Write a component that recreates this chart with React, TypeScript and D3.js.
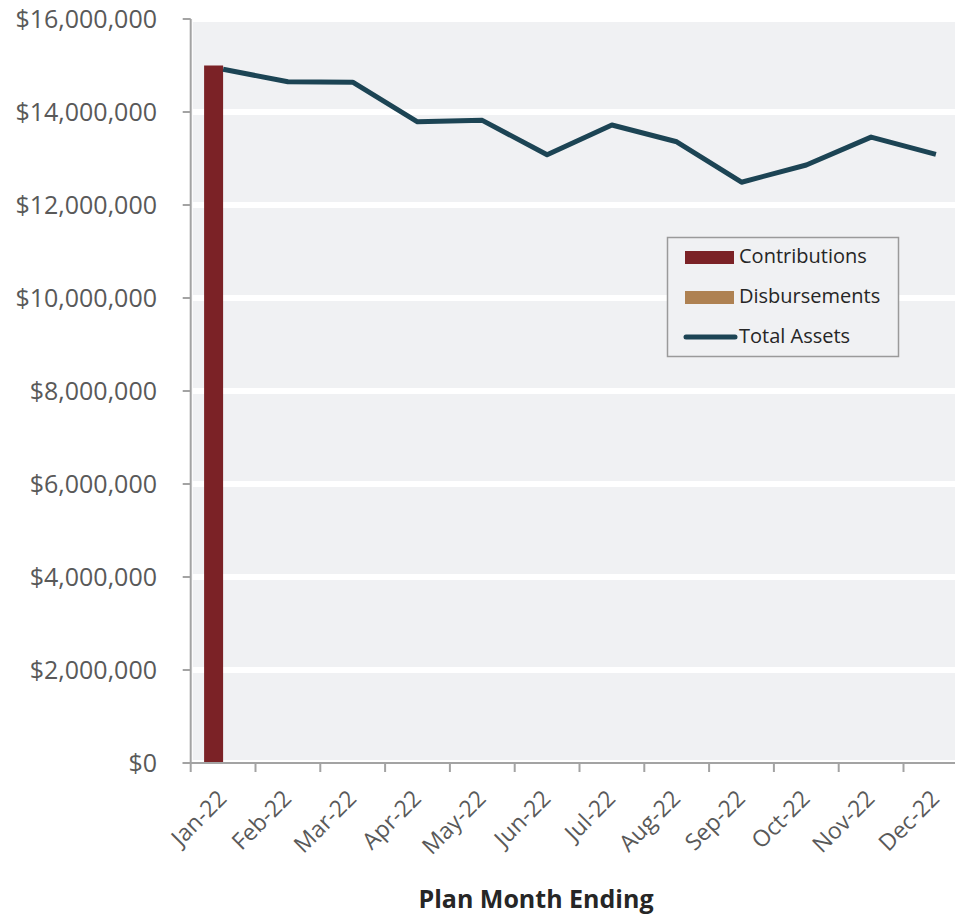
import React from "react";
import * as d3 from "d3";

const months = ["Jan-22","Feb-22","Mar-22","Apr-22","May-22","Jun-22","Jul-22","Aug-22","Sep-22","Oct-22","Nov-22","Dec-22"];
const contributions = [15000000,0,0,0,0,0,0,0,0,0,0,0];
const disbursements = [0,0,0,0,0,0,0,0,0,0,0,0];
const totalAssets = [14920000,14650000,14640000,13790000,13820000,13080000,13720000,13360000,12490000,12860000,13460000,13090000];
const yTicks = [0,2000000,4000000,6000000,8000000,10000000,12000000,14000000,16000000];
const legendItems = ["Contributions","Disbursements","Total Assets"];

const W = 955, H = 916;
const left = 190.7, right = 968.3, top = 19, bottom = 763;
const FONT = "'Open Sans', sans-serif";
const C_CONTRIB = "#7b2226";
const C_DISB = "#ae8152";
const C_LINE = "#1c4454";
const BG = "#f0f1f3";
const AXIS = "#a3a3a3";
const TXT = "#595959";

export default function App() {
  const x = d3.scaleBand<string>().domain(months).range([left, right]);
  const y = d3.scaleLinear().domain([0, 16000000]).range([bottom, top]);
  const bw = 19;
  const fmt = (v: number) => "$" + d3.format(",")(v);
  const line = d3.line<number>()
    .x((_, i) => (x(months[i]) as number) + x.bandwidth() / 2)
    .y((d) => y(d));

  return (
    <svg width={W} height={H} style={{ position: "absolute", left: 0, top: 0, display: "block", background: "#fff" }} fontFamily={FONT}>
      <rect x={left + 2} y={top} width={W - left} height={bottom - top} fill={BG} />
      {yTicks.map((t) => (
        <line key={"g" + t} x1={left + 2} x2={W} y1={y(t)} y2={y(t)} stroke="#fff" strokeWidth={6} />
      ))}
      {/* bars */}
      {months.map((m, i) => {
        const cx = (x(m) as number) + x.bandwidth() / 2;
        return (
          <g key={"b" + m}>
            <rect x={cx - bw} y={y(contributions[i])} width={bw} height={bottom - y(contributions[i])} fill={C_CONTRIB} />
            <rect x={cx} y={y(disbursements[i])} width={bw} height={bottom - y(disbursements[i])} fill={C_DISB} />
          </g>
        );
      })}
      {/* axes */}
      <line x1={left} x2={left} y1={top} y2={bottom} stroke={AXIS} strokeWidth={2} />
      <line x1={left - 8} x2={W} y1={bottom} y2={bottom} stroke={AXIS} strokeWidth={2} />
      {yTicks.map((t) => (
        <g key={"yt" + t}>
          <line x1={left - 8} x2={left} y1={y(t)} y2={y(t)} stroke={AXIS} strokeWidth={2} />
          <text x={157} y={y(t)} dy="0.35em" textAnchor="end" fontSize={25} fill={TXT}>{fmt(t)}</text>
        </g>
      ))}
      {months.map((m) => (
        <line key={"xt" + m} x1={x(m) as number} x2={x(m) as number} y1={bottom} y2={bottom + 9} stroke={AXIS} strokeWidth={2} />
      ))}
      {months.map((m) => {
        const cx = (x(m) as number) + x.bandwidth() / 2;
        return (
          <text key={"xl" + m} transform={`translate(${cx + 5},${800}) rotate(-45)`} textAnchor="end" fontSize={23} fill={TXT}>{m}</text>
        );
      })}
      {/* line */}
      <path d={line(totalAssets) || ""} fill="none" stroke={C_LINE} strokeWidth={5} strokeLinejoin="round" />
      {/* legend */}
      <g>
        <rect x={667.5} y={237.5} width={231} height={119} fill={BG} stroke="#9a9a9a" strokeWidth={1.5} />
        <rect x={685} y={251} width={49} height={13} fill={C_CONTRIB} />
        <rect x={685} y={291} width={49} height={13} fill={C_DISB} />
        <line x1={686} x2={735} y1={337} y2={337} stroke={C_LINE} strokeWidth={5} strokeLinecap="round" />
        {legendItems.map((l, i) => (
          <text key={l} x={739} y={263 + i * 40} fontSize={20} fill="#262626">{l}</text>
        ))}
      </g>
      <text x={536} y={908} textAnchor="middle" fontSize={25} fontWeight="bold" fill="#262626">Plan Month Ending</text>
    </svg>
  );
}
